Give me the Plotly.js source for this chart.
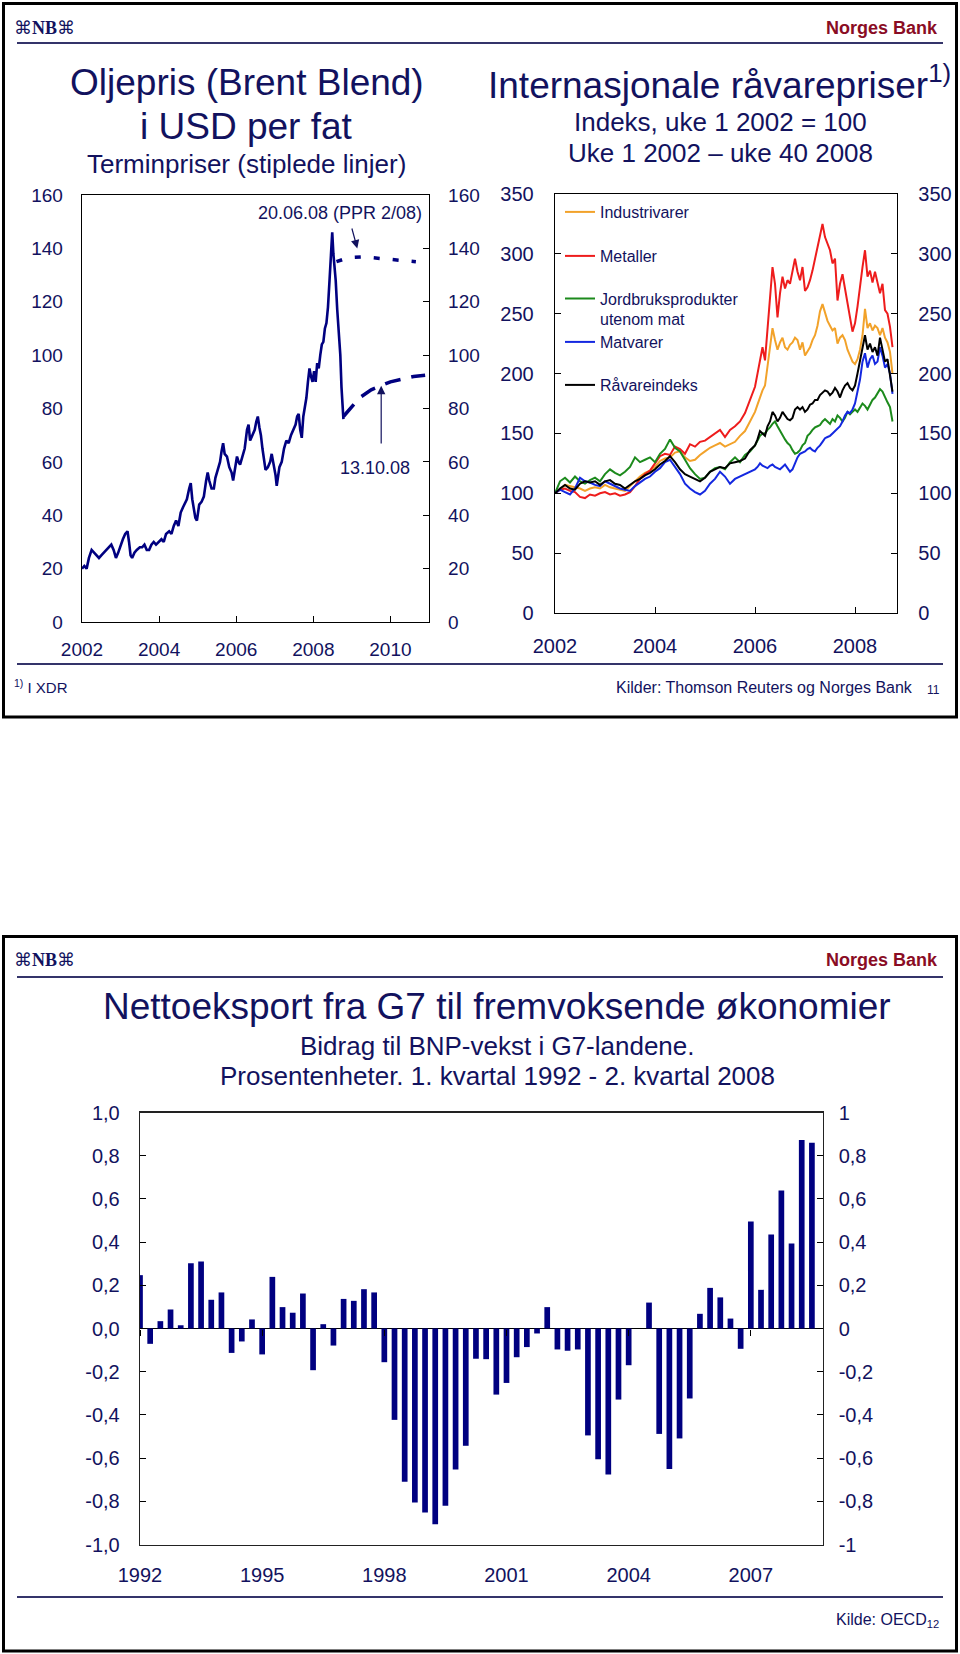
<!DOCTYPE html>
<html><head><meta charset="utf-8">
<script src="https://cdn.plot.ly/plotly-3.0.1.min.js"></script>
<style>html,body{margin:0;padding:0;background:#fff}#chart{width:960px;height:1654px}</style>
</head><body><div id="chart"></div>
<script>
// ---------- Oljepris (Brent Blend), USD per fat ----------
const oilYears = [
  2002.00,2002.06,2002.12,2002.18,2002.25,2002.32,2002.38,2002.44,2002.50,2002.56,2002.62,2002.70,2002.76,2002.82,2002.88,2002.94,
  2003.00,2003.06,2003.12,2003.18,2003.22,2003.26,2003.30,2003.36,2003.42,2003.50,2003.56,2003.62,2003.68,2003.74,2003.80,2003.86,2003.92,
  2004.00,2004.06,2004.12,2004.18,2004.26,2004.32,2004.38,2004.44,2004.50,2004.56,2004.62,2004.66,2004.72,2004.78,2004.82,2004.86,2004.90,2004.94,2004.98,
  2005.04,2005.10,2005.16,2005.22,2005.26,2005.30,2005.36,2005.42,2005.46,2005.52,2005.58,2005.62,2005.66,2005.70,2005.76,2005.82,2005.88,2005.92,2005.96,
  2006.02,2006.06,2006.10,2006.16,2006.22,2006.28,2006.32,2006.36,2006.42,2006.48,2006.52,2006.56,2006.60,2006.64,2006.68,2006.72,2006.76,2006.82,2006.88,2006.92,2006.96,
  2007.02,2007.05,2007.08,2007.12,2007.18,2007.24,2007.30,2007.36,2007.42,2007.48,2007.54,2007.58,2007.62,2007.66,2007.70,2007.74,2007.78,2007.82,2007.86,2007.90,2007.94,2007.98,
  2008.02,2008.06,2008.10,2008.14,2008.18,2008.22,2008.26,2008.30,2008.34,2008.38,2008.42,2008.46,2008.49,2008.52,2008.55,2008.58,2008.62,2008.66,2008.70,2008.73,2008.76,2008.78
];
const oilPrice = [
  20,21,20,24,27,26,25,24,25,26,27,28,29,27,24,26,
  29,31,33,34,30,25,24,26,27,28,28,29,27,27,29,30,29,
  30,31,30,33,34,33,36,38,36,41,43,44,46,50,52,46,42,39,38,
  44,45,47,53,56,53,50,50,54,57,60,64,67,63,62,58,56,53,57,
  62,60,59,62,65,72,74,68,70,72,75,77,73,70,65,60,57,58,60,63,60,
  55,51,54,58,60,65,68,67,70,72,74,77,78,72,69,77,80,84,90,95,92,90,
  94,90,97,95,100,104,105,110,112,118,128,138,146,138,134,128,117,110,100,88,80,76
];
// Terminpriser 20.06.08 (PPR 2/08)
const fwdJunYears = [2008.60, 2008.90, 2009.30, 2009.70, 2010.10, 2010.66];
const fwdJunPrice = [135, 136.5, 136.8, 136.3, 135.8, 135];
// Terminpriser 13.10.08
const fwdOctYears = [2008.78, 2009.00, 2009.20, 2009.50, 2009.75, 2010.00, 2010.30, 2010.60, 2010.90];
const fwdOctPrice = [77, 80.5, 84, 87, 88.5, 90, 91, 92, 92.5];
const oilXTicks = [2002, 2004, 2006, 2008, 2010];
const oilXTickText = ['2002', '2004', '2006', '2008', '2010'];
const oilYTicks = [0, 20, 40, 60, 80, 100, 120, 140, 160];

// ---------- Internasjonale råvarepriser, indeks uke 1 2002 = 100 ----------
const comYears = [
  2002.0,2002.1,2002.2,2002.3,2002.4,2002.5,2002.6,2002.7,2002.8,2002.9,
  2003.0,2003.1,2003.2,2003.3,2003.4,2003.5,2003.6,2003.7,2003.8,2003.9,
  2004.0,2004.1,2004.2,2004.3,2004.4,2004.5,2004.6,2004.7,2004.8,2004.9,
  2005.0,2005.1,2005.2,2005.3,2005.4,2005.5,2005.6,2005.7,2005.8,2005.9,
  2006.00,2006.05,2006.10,2006.15,2006.20,2006.25,2006.30,2006.35,2006.40,2006.45,
  2006.50,2006.55,2006.60,2006.65,2006.70,2006.75,2006.80,2006.85,2006.90,2006.95,
  2007.00,2007.05,2007.10,2007.15,2007.20,2007.25,2007.30,2007.35,2007.40,2007.45,
  2007.50,2007.55,2007.60,2007.65,2007.70,2007.75,2007.80,2007.85,2007.90,2007.95,
  2008.00,2008.05,2008.10,2008.15,2008.20,2008.25,2008.30,2008.35,2008.40,2008.45,
  2008.50,2008.55,2008.60,2008.65,2008.70,2008.75
];
const industrivarer = [
  100,103,107,106,105,104,102,104,105,104, 107,105,104,103,102,106,110,114,117,119,
  122,127,129,130,134,135,130,127,128,132, 135,138,140,142,139,141,143,148,152,160,
  168,174,180,186,190,205,222,238,228,220, 226,230,222,220,224,226,230,228,220,226,
  215,218,222,228,232,240,252,258,250,244, 240,236,238,225,230,232,228,220,215,210,
  208,212,220,232,254,238,242,236,240,238, 232,238,230,226,218,200
];
const metaller = [
  100,103,104,102,101,97,96,99,98,100, 101,99,100,98,99,101,106,112,116,119,
  125,131,133,132,139,137,133,141,139,143, 144,147,150,153,147,153,156,160,167,178,
  189,200,211,222,211,239,261,289,275,247, 267,281,271,278,275,285,296,285,278,289,
  269,272,278,286,296,305,317,325,314,308, 303,292,296,261,275,283,272,261,247,235,
  242,256,275,289,303,281,286,276,285,275, 267,275,253,250,239,222
];
const jordbruk = [
  100,110,113,109,114,110,108,111,113,110, 116,120,117,115,118,122,130,126,128,130,
  126,133,137,145,138,135,128,121,116,112, 113,118,121,122,120,126,130,126,132,135,
  140,144,148,150,150,153,155,158,160,156, 152,148,145,142,140,136,133,134,136,140,
  142,148,150,153,155,156,157,160,162,160, 158,162,160,165,163,160,163,168,166,168,
  170,168,172,175,173,170,174,178,180,183, 187,185,180,176,172,160
];
const matvarer = [
  100,103,101,99,104,113,110,109,107,106, 110,108,106,104,103,102,106,109,112,114,
  118,121,126,128,122,116,108,104,101,99, 102,108,112,118,114,108,112,114,116,118,
  120,122,125,123,122,121,123,124,122,121, 120,122,124,121,118,120,125,130,133,134,
  135,137,138,136,135,138,140,143,146,147, 148,150,152,154,156,160,165,168,167,170,
  175,185,195,210,217,205,212,215,208,210, 222,215,205,208,200,183
];
const raavareindeks = [
  100,104,107,104,103,108,110,109,110,107, 110,111,108,107,104,107,110,112,115,117,
  120,124,127,131,126,120,116,114,112,110, 113,118,120,122,121,125,126,127,129,136,
  140,145,152,150,148,156,160,168,165,160, 163,168,165,162,161,163,170,172,170,172,
  168,170,174,175,178,178,182,184,186,185, 182,184,188,185,180,186,190,192,188,186,
  190,200,210,220,232,220,225,218,222,215, 230,220,210,212,200,185
];
const comXTicks = [2002, 2004, 2006, 2008];
const comXTickText = ['2002', '2004', '2006', '2008'];
const comYTicks = [0, 50, 100, 150, 200, 250, 300, 350];
const comNames = ['Industrivarer', 'Metaller', 'Jordbruksprodukter<br>utenom mat', 'Matvarer', 'Råvareindeks'];
const comColors = ['#f2a22a', '#ee1c1c', '#1c8a1c', '#1428e0', '#000000'];

// ---------- Nettoeksport fra G7 til fremvoksende økonomier ----------
const quarterLabels = [];
for (let yr = 1992; yr <= 2008; yr++) for (let q = 1; q <= 4; q++) quarterLabels.push(yr + 'K' + q);
const nettoeksport = [
  0.247,-0.071,0.034,0.088,0.015,0.302,0.310,0.133,0.167,-0.113,
  -0.060,0.042,-0.120,0.239,0.099,0.073,0.162,-0.193,0.020,-0.079,
  0.137,0.128,0.182,0.167,-0.156,-0.423,-0.710,-0.806,-0.852,-0.906,
  -0.821,-0.653,-0.543,-0.140,-0.142,-0.306,-0.252,-0.133,-0.086,-0.023,
  0.099,-0.097,-0.103,-0.097,-0.495,-0.605,-0.676,-0.329,-0.170,0.000,
  0.120,-0.488,-0.650,-0.509,-0.324,0.068,0.188,0.144,0.046,-0.094,
  0.495,0.179,0.435,0.639,0.394,0.873,0.860
];
const barXTickCats = ['1992K1', '1995K1', '1998K1', '2001K1', '2004K1', '2007K1'];
const barXTickText = ['1992', '1995', '1998', '2001', '2004', '2007'];
const barXTickIdx = [0, 12, 24, 36, 48, 60];
const barYTicks = [-1, -0.8, -0.6, -0.4, -0.2, 0, 0.2, 0.4, 0.6, 0.8, 1];
const barYTickLeft = ['-1,0', '-0,8', '-0,6', '-0,4', '-0,2', '0,0', '0,2', '0,4', '0,6', '0,8', '1,0'];
const barYTickRight = ['-1', '-0,8', '-0,6', '-0,4', '-0,2', '0', '0,2', '0,4', '0,6', '0,8', '1'];

// ---------- drawing ----------
const W = 960, H = 1654;
const px = v => v / W;
const py = v => 1 - v / H;
const NAVY = '#12125e';
const FONT = 'Liberation Sans, Arial, Helvetica, sans-serif';
const tf = s => ({family: FONT, size: s, color: NAVY});

const traces = [];
traces.push({x: oilYears, y: oilPrice, xaxis: 'x', yaxis: 'y', type: 'scatter', mode: 'lines',
  line: {color: '#000080', width: 2.6}, showlegend: false, hoverinfo: 'skip'});
traces.push({x: fwdJunYears, y: fwdJunPrice, xaxis: 'x', yaxis: 'y', type: 'scatter', mode: 'lines',
  line: {color: '#000080', width: 3.5, dash: '6px,13px'}, showlegend: false, hoverinfo: 'skip'});
traces.push({x: fwdOctYears, y: fwdOctPrice, xaxis: 'x', yaxis: 'y', type: 'scatter', mode: 'lines',
  line: {color: '#000080', width: 3.5, dash: '16px,11px'}, showlegend: false, hoverinfo: 'skip'});
traces.push({x: [null], y: [null], xaxis: 'x', yaxis: 'y2', type: 'scatter', showlegend: false, hoverinfo: 'skip'});

const comSeries = [industrivarer, metaller, jordbruk, matvarer, raavareindeks];
const legendIds = ['legend', 'legend2', 'legend3', 'legend4', 'legend5'];
comSeries.forEach((s, i) => {
  traces.push({x: comYears, y: s, xaxis: 'x2', yaxis: 'y3', type: 'scatter', mode: 'lines',
    name: comNames[i], line: {color: comColors[i], width: 2}, legend: legendIds[i], showlegend: true, hoverinfo: 'skip'});
});
traces.push({x: [null], y: [null], xaxis: 'x2', yaxis: 'y4', type: 'scatter', showlegend: false, hoverinfo: 'skip'});

traces.push({x: quarterLabels.slice(0, nettoeksport.length), y: nettoeksport, xaxis: 'x3', yaxis: 'y5', type: 'bar',
  width: 0.56, marker: {color: '#000080', line: {width: 0}}, showlegend: false, hoverinfo: 'skip'});
traces.push({x: [null], y: [null], xaxis: 'x3', yaxis: 'y6', type: 'scatter', showlegend: false, hoverinfo: 'skip'});
traces.push({x: [null], y: [null], xaxis: 'x4', yaxis: 'y5', type: 'scatter', showlegend: false, hoverinfo: 'skip'});

const baseAx = {showgrid: false, zeroline: false, fixedrange: true, tickcolor: '#000', tickwidth: 1, linecolor: '#000', linewidth: 1.3};

const legendBase = {xanchor: 'left', yanchor: 'middle', bgcolor: 'rgba(0,0,0,0)', borderwidth: 0,
  font: tf(16), itemwidth: 30, tracegroupgap: 0};
const legendY = [212, 256, 309, 342, 385];

function T(text, x, y, size, o) {
  return Object.assign({text: text, x: px(x), y: py(y), xref: 'paper', yref: 'paper', showarrow: false,
    font: tf(size), xanchor: 'center', yanchor: 'middle'}, o || {});
}

const annotations = [
  T('⌘<b>NB</b>⌘', 44, 28, 17, {font: {family: 'Liberation Serif, DejaVu Serif, serif', size: 18, color: NAVY}}),
  T('<b>Norges Bank</b>', 940, 28, 18, {xanchor: 'right', font: {family: FONT, size: 18, color: '#8a0c24'}}),
  T('Oljepris (Brent Blend)', 247, 82, 37),
  T('i USD per fat', 247, 126, 37),
  T('Terminpriser (stiplede linjer)', 247, 164, 26),
  T('Internasjonale råvarepriser<sup>1)</sup>', 719, 82, 37),
  T('Indeks, uke 1 2002 = 100', 720, 122, 26),
  T('Uke 1 2002 – uke 40 2008', 720, 153, 26),
  T('20.06.08 (PPR 2/08)', 340, 213, 18),
  T('13.10.08', 375, 468, 18),
  {x: 2009.14, y: 140, ax: 2008.99, ay: 148, xref: 'x', yref: 'y', axref: 'x', ayref: 'y', text: '', showarrow: true,
    arrowhead: 2, arrowsize: 1.4, arrowwidth: 1.2, arrowcolor: NAVY},
  {x: 2009.76, y: 88.5, ax: 2009.76, ay: 66.3, xref: 'x', yref: 'y', axref: 'x', ayref: 'y', text: '', showarrow: true,
    arrowhead: 2, arrowsize: 1.4, arrowwidth: 1.2, arrowcolor: NAVY},
  T('<sup>1)</sup> I XDR', 12, 686, 15, {xanchor: 'left'}),
  T('Kilder: Thomson Reuters og Norges Bank', 915, 687, 16, {xanchor: 'right'}),
  T('11', 933, 690, 12),
  T('⌘<b>NB</b>⌘', 44, 960, 17, {font: {family: 'Liberation Serif, DejaVu Serif, serif', size: 18, color: NAVY}}),
  T('<b>Norges Bank</b>', 940, 960, 18, {xanchor: 'right', font: {family: FONT, size: 18, color: '#8a0c24'}}),
  T('Nettoeksport fra G7 til fremvoksende økonomier', 497, 1007, 37),
  T('Bidrag til BNP-vekst i G7-landene.', 497, 1046, 26),
  T('Prosentenheter. 1. kvartal 1992 - 2. kvartal 2008', 497, 1076, 26),
  T('Kilde: OECD<sub>12</sub>', 941, 1620, 16, {xanchor: 'right'})
];

const shapes = [
  {type: 'rect', xref: 'paper', yref: 'paper', x0: px(3.5), x1: px(956.5), y0: py(717), y1: py(3.5), line: {color: '#000', width: 3}},
  {type: 'rect', xref: 'paper', yref: 'paper', x0: px(3.5), x1: px(956.5), y0: py(1651), y1: py(936.5), line: {color: '#000', width: 3}},
  {type: 'line', xref: 'paper', yref: 'paper', x0: px(17), x1: px(943), y0: py(43), y1: py(43), line: {color: '#34346a', width: 2}},
  {type: 'line', xref: 'paper', yref: 'paper', x0: px(17), x1: px(943), y0: py(664), y1: py(664), line: {color: '#34346a', width: 2}},
  {type: 'line', xref: 'paper', yref: 'paper', x0: px(17), x1: px(943), y0: py(977), y1: py(977), line: {color: '#34346a', width: 2}},
  {type: 'line', xref: 'paper', yref: 'paper', x0: px(17), x1: px(943), y0: py(1597), y1: py(1597), line: {color: '#34346a', width: 2}}
];

const layout = {
  width: W, height: H, margin: {l: 0, r: 0, t: 0, b: 0, pad: 0},
  paper_bgcolor: '#ffffff', plot_bgcolor: 'rgba(0,0,0,0)',
  font: {family: FONT, color: NAVY}, hovermode: false, showlegend: true,
  xaxis: Object.assign({}, baseAx, {domain: [px(82), px(429)], anchor: 'y', range: [2002, 2011],
    tickmode: 'array', tickvals: oilXTicks, ticktext: oilXTickText, ticks: 'inside', ticklen: 6,
    showline: true, mirror: true, tickfont: tf(19), ticklabelstandoff: 10}),
  yaxis: Object.assign({}, baseAx, {domain: [py(622), py(195)], anchor: 'x', range: [0, 160],
    tickmode: 'array', tickvals: oilYTicks, ticks: '', showline: true, tickfont: tf(19), ticklabelstandoff: 14}),
  yaxis2: Object.assign({}, baseAx, {overlaying: 'y', side: 'right', anchor: 'x', range: [0, 160],
    tickmode: 'array', tickvals: oilYTicks, ticks: 'inside', ticklen: 6, showline: true, tickfont: tf(19), ticklabelstandoff: 14}),
  xaxis2: Object.assign({}, baseAx, {domain: [px(555), px(897)], anchor: 'y3', range: [2002, 2008.84],
    tickmode: 'array', tickvals: comXTicks, ticktext: comXTickText, ticks: 'inside', ticklen: 6,
    showline: true, mirror: true, tickfont: tf(20), ticklabelstandoff: 15}),
  yaxis3: Object.assign({}, baseAx, {domain: [py(613), py(194)], anchor: 'x2', range: [0, 350],
    tickmode: 'array', tickvals: comYTicks, ticks: 'inside', ticklen: 6, showline: true, tickfont: tf(20), ticklabelstandoff: 16}),
  yaxis4: Object.assign({}, baseAx, {overlaying: 'y3', side: 'right', anchor: 'x2', range: [0, 350],
    tickmode: 'array', tickvals: comYTicks, ticks: 'inside', ticklen: 6, showline: true, tickfont: tf(20), ticklabelstandoff: 16}),
  xaxis3: Object.assign({}, baseAx, {domain: [px(140), px(822.7)], anchor: 'y5', type: 'category',
    categoryorder: 'array', categoryarray: quarterLabels, range: [0, 67.06],
    tickmode: 'array', tickvals: barXTickCats, ticktext: barXTickText, ticks: '', showline: true, mirror: true,
    linecolor: '#222', tickfont: tf(20), ticklabelstandoff: 12}),
  xaxis4: Object.assign({}, baseAx, {overlaying: 'x3', anchor: 'free', position: py(1328.5), side: 'bottom',
    range: [0, 67.06], tickmode: 'array', tickvals: barXTickIdx, ticks: 'outside', ticklen: 6,
    showticklabels: false, showline: false}),
  yaxis5: Object.assign({}, baseAx, {domain: [py(1544.5), py(1112.5)], anchor: 'x3', range: [-1, 1],
    tickmode: 'array', tickvals: barYTicks, ticktext: barYTickLeft, ticks: 'inside', ticklen: 6,
    showline: true, mirror: true, linecolor: '#222', zeroline: true, zerolinecolor: '#000', zerolinewidth: 1.5,
    tickfont: tf(20), ticklabelstandoff: 15}),
  yaxis6: Object.assign({}, baseAx, {overlaying: 'y5', side: 'right', anchor: 'x3', range: [-1, 1],
    tickmode: 'array', tickvals: barYTicks, ticktext: barYTickRight, ticks: 'inside', ticklen: 6,
    showline: false, tickfont: tf(20), ticklabelstandoff: 15}),
  annotations: annotations,
  shapes: shapes
};
legendIds.forEach((id, i) => {
  layout[id] = Object.assign({}, legendBase, {x: px(560), y: py(legendY[i]), valign: i === 2 ? 'top' : 'middle'});
});

Plotly.newPlot('chart', traces, layout, {staticPlot: true, displayModeBar: false});
</script>
</body></html>
